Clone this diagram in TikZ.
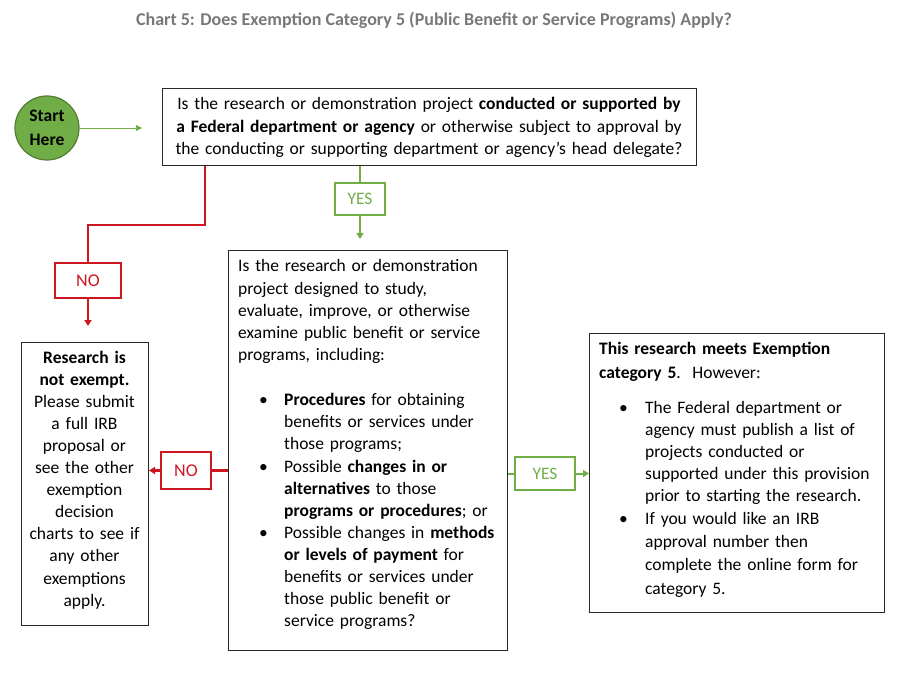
\documentclass[tikz,border=0pt]{standalone}
\usepackage{fontspec}
\setmainfont{Carlito}
\usetikzlibrary{arrows.meta,calc}
\definecolor{nored}{RGB}{204,22,32}
\definecolor{yesgreen}{RGB}{112,173,71}
\definecolor{startedge}{RGB}{80,126,50}
\definecolor{titlegray}{RGB}{120,120,120}
\definecolor{boxedge}{RGB}{40,40,40}
\begin{document}
\begin{tikzpicture}[x=1pt,y=-1pt,
  box/.style={draw=boxedge, line width=1.1pt, inner sep=0pt, anchor=north west, rectangle},
  nobox/.style={draw=nored, line width=2.6pt, inner sep=0pt, rectangle, text=nored, font=\fontsize{18}{20}\selectfont},
  yesbox/.style={draw=yesgreen, line width=2.4pt, inner sep=0pt, rectangle, text=yesgreen, font=\fontsize{17.5}{20}\selectfont},
  redline/.style={draw=nored, line width=2.7pt},
  greenline/.style={draw=yesgreen, line width=2pt},
  tip/.style={-{Triangle[length=6pt,width=7pt]}},
  txt/.style={inner sep=0pt, font=\fontsize{17.5}{22.2}\selectfont},
  ctxt/.style={txt, align=center, anchor=base},
  ltxt/.style={txt, align=left, anchor=base west},
  bul/.style={txt, anchor=base west},
]
\useasboundingbox (0,0) rectangle (900,679);

% title
\node[inner sep=0pt, anchor=base, text=titlegray, font=\bfseries\fontsize{18}{20}\selectfont] (title) at (434,26)
  {Chart 5: Does Exemption Category 5 (Public Benefit or Service Programs) Apply?};

% start
\node[circle, fill=yesgreen, draw=startedge, line width=1.2pt, minimum size=64pt, inner sep=0pt,
  font=\bfseries\fontsize{17.5}{24}\selectfont, align=center] (start) at (47,128) {Start\\Here};
\coordinate (sa) at (142,128);
\draw[draw=yesgreen, line width=0.8pt, -{Triangle[length=6pt,width=6pt]}] (start.east) -- (sa);

% question 1
\node[box, minimum width=534pt, minimum height=77pt] (q1) at (162,88) {};
\node[ctxt, text width=530pt] (q1t) at (429,110)
  {Is the research or demonstration project \textbf{conducted or supported by}\\
   \textbf{a Federal department or agency} or otherwise subject to approval by\\
   the conducting or supporting department or agency’s head delegate?};

% NO 1
\node[nobox, minimum width=66pt, minimum height=35pt] (no1) at (88,280.5) {NO};
\draw[redline] ($(q1.south west)+(43,0)$) -- ++(0,59) -| (no1.north);
\coordinate (ne1) at (88,326);
\draw[redline, tip] (no1.south) -- (ne1);

% YES 1
\node[yesbox, minimum width=50pt, minimum height=32pt] (yes1) at (360,199) {YES};
\draw[greenline] (q1.south -| yes1.north) -- (yes1.north);
\coordinate (ye1) at (360,239);
\draw[greenline, tip] (yes1.south) -- (ye1);

% question 2
\node[box, minimum width=279pt, minimum height=400pt] (q2) at (228,250) {};
\node[ltxt, text width=268pt] (q2t) at (238,272)
  {Is the research or demonstration\\
   project designed to study,\\
   evaluate, improve, or otherwise\\
   examine public benefit or service\\
   programs, including:};
\node[bul] (b1) at (259,405) {•};
\node[ltxt, text width=220pt] (i1) at (284,405)
  {\textbf{Procedures} for obtaining\\
   benefits or services under\\
   those programs;};
\node[bul] (b2) at (259,472) {•};
\node[ltxt, text width=220pt] (i2) at (284,472)
  {Possible \textbf{changes in or}\\
   \textbf{alternatives} to those\\
   \textbf{programs or procedures}; or};
\node[bul] (b3) at (259,538) {•};
\node[ltxt, text width=220pt] (i3) at (284,538)
  {Possible changes in \textbf{methods}\\
   \textbf{or levels of payment} for\\
   benefits or services under\\
   those public benefit or\\
   service programs?};

% not exempt box
\node[box, minimum width=127pt, minimum height=283pt] (l) at (21,342) {};
\node[ctxt, text width=125pt, font=\fontsize{17.5}{22.1}\selectfont] (lt) at (84.5,363)
  {\textbf{Research is}\\
   \textbf{not exempt.}\\
   Please submit\\
   a full IRB\\
   proposal or\\
   see the other\\
   exemption\\
   decision\\
   charts to see if\\
   any other\\
   exemptions\\
   apply.};

% NO 2
\node[nobox, minimum width=50pt, minimum height=37pt] (no2) at (186,470.5) {NO};
\draw[redline] (q2.west |- no2.east) -- (no2.east);
\coordinate (ne2) at (149,470.5);
\draw[redline, tip] (no2.west) -- (ne2);

% YES 2
\node[yesbox, minimum width=60pt, minimum height=33pt] (yes2) at (545,473.5) {YES};
\draw[greenline] (q2.east |- yes2.west) -- (yes2.west);

% exempt box
\node[box, minimum width=295pt, minimum height=279pt] (r) at (589,333) {};
\draw[greenline, tip] (yes2.east) -- (r.west |- yes2.east);
\node[ltxt, text width=285pt, font=\fontsize{17.5}{24}\selectfont] (rt) at (599,354)
  {\textbf{This research meets Exemption}\\
   \textbf{category 5}.\ \ However:};
\node[bul] (rb1) at (619,413) {•};
\node[ltxt, text width=236pt] (ri1) at (645,413)
  {The Federal department or\\
   agency must publish a list of\\
   projects conducted or\\
   supported under this provision\\
   prior to starting the research.};
\node[bul] (rb2) at (619,524) {•};
\node[ltxt, text width=236pt, font=\fontsize{17.5}{23.4}\selectfont] (ri2) at (645,524)
  {If you would like an IRB\\
   approval number then\\
   complete the online form for\\
   category 5.};
\end{tikzpicture}
\end{document}
